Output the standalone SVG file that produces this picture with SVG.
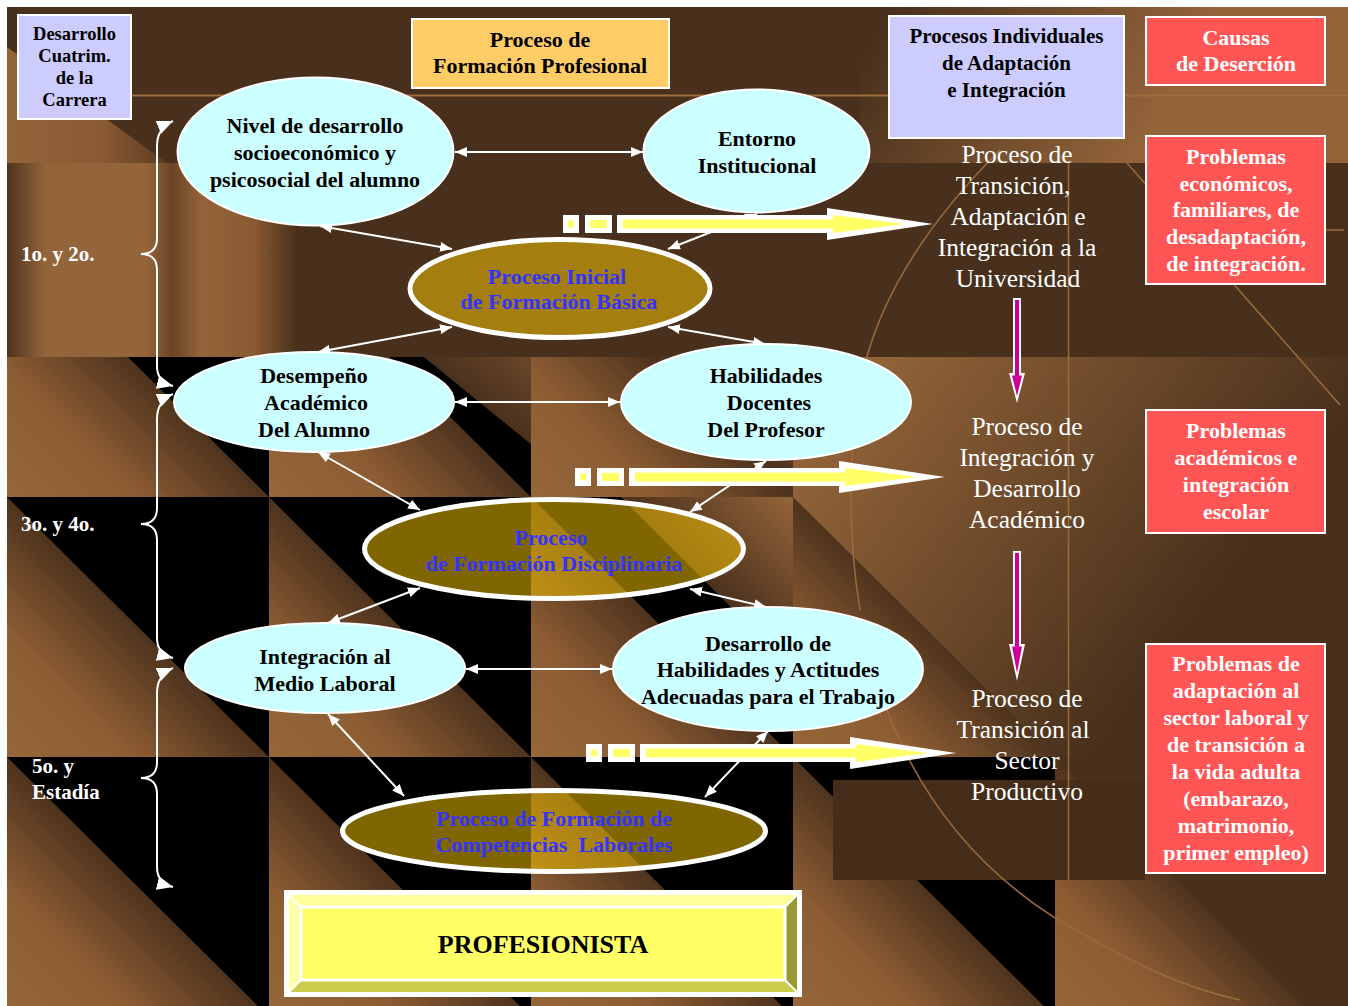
<svg xmlns="http://www.w3.org/2000/svg" width="1348" height="1006" viewBox="0 0 1348 1006">
<defs>
<style>
.f{font-family:"Liberation Serif","Times New Roman",serif;font-weight:bold;text-anchor:middle}
.k{fill:#000;font-size:22px}
.b{fill:#3333ff;font-size:22px}
.w{fill:#fff;font-size:22px}
.lab{font-family:"Liberation Serif","Times New Roman",serif;font-weight:bold;font-size:21px;fill:#fff}
.r{font-family:"Liberation Serif","Times New Roman",serif;font-size:25.5px;fill:#fff;text-anchor:middle}
.cy{fill:#ccffff;stroke:#fff;stroke-width:2}
.ol{fill:#ffcc00;fill-opacity:0.5;stroke:#fff;stroke-width:5}
.bx{stroke:#fff;stroke-width:2}
.cn{fill:none;stroke:#fff;stroke-width:2;marker-start:url(#ah);marker-end:url(#ah)}
.br{fill:none;stroke:#fff;stroke-width:2;marker-start:url(#bh);marker-end:url(#bh)}
.blk{fill:#000}
.ll{fill:url(#gLL)}
.ur{fill:url(#gUR)}
.dl{fill:none;stroke:#9c6b3c;stroke-width:1.5}
.wh{fill:#fff}
.yl{fill:#ffff66}
</style>
<marker id="ah" viewBox="0 0 12 10" refX="12" refY="5" markerWidth="12" markerHeight="10" markerUnits="userSpaceOnUse" orient="auto-start-reverse"><path d="M0,0 L12,5 L0,10 z" fill="#fff"/></marker>
<marker id="bh" viewBox="0 0 16 14" refX="16" refY="7" markerWidth="16" markerHeight="14" markerUnits="userSpaceOnUse" orient="auto-start-reverse"><path d="M0,0 L16,7 L0,14 z" fill="#fff"/></marker>
<linearGradient id="gLL" x1="0" y1="1" x2="0.5" y2="0.5">
<stop offset="0" stop-color="#97673b"/><stop offset="0.5" stop-color="#8c5c33"/><stop offset="1" stop-color="#4e331d"/>
</linearGradient>
<linearGradient id="gUR" x1="0.5" y1="0.5" x2="1" y2="0">
<stop offset="0" stop-color="#4b311d"/><stop offset="1" stop-color="#95653a"/>
</linearGradient>
<linearGradient id="gBig" gradientUnits="userSpaceOnUse" x1="830" y1="380" x2="1180" y2="640">
<stop offset="0" stop-color="#96663a"/><stop offset="1" stop-color="#48301c"/>
</linearGradient>
<linearGradient id="gTop" gradientUnits="userSpaceOnUse" x1="880" y1="20" x2="1130" y2="160">
<stop offset="0" stop-color="#48301c"/><stop offset="1" stop-color="#93633a"/>
</linearGradient>
<linearGradient id="gTL" gradientUnits="userSpaceOnUse" x1="7" y1="0" x2="167" y2="0">
<stop offset="0" stop-color="#93633a"/><stop offset="0.6" stop-color="#8a5b32"/><stop offset="1" stop-color="#5a3b20"/>
</linearGradient>
<linearGradient id="gBand" gradientUnits="userSpaceOnUse" x1="7" y1="0" x2="297" y2="0">
<stop offset="0" stop-color="#4f331e"/><stop offset="0.13" stop-color="#93633a"/><stop offset="0.48" stop-color="#95653a"/><stop offset="0.57" stop-color="#6a4526"/><stop offset="0.67" stop-color="#93633a"/><stop offset="0.85" stop-color="#8a5b32"/><stop offset="1" stop-color="#48301c"/>
</linearGradient>
<g id="ya">
<rect x="0" y="-9" width="16" height="18" class="wh"/>
<rect x="22" y="-9" width="27" height="18" class="wh"/>
<rect x="54" y="-9" width="216" height="18" class="wh"/>
<polygon points="264,-16 370,0 264,16" class="wh"/>
<rect x="5" y="-3.5" width="6" height="7" class="yl"/>
<rect x="27" y="-4" width="17" height="8" class="yl"/>
<rect x="60" y="-4.5" width="212" height="9" class="yl"/>
<polygon points="270,-9 342,0 270,9" class="yl"/>
</g>
</defs>

<g id="background">
<rect width="1348" height="1006" fill="#fff"/>
<rect x="7" y="7" width="1341" height="999" fill="#48301c"/>
<polygon class="ll" points="7,237 269,497 7,497"/>
<polygon class="blk" points="7,237 269,237 269,497"/>
<polygon class="ll" points="269,237 531,497 269,497"/>
<polygon class="blk" points="269,237 531,497 531,444 277,237"/>
<polygon class="ur" points="277,237 531,444 531,237"/>
<polygon class="ll" points="531,237 793,497 531,497"/>
<polygon class="ur" points="531,237 793,237 793,497"/>
<rect x="793" y="357" width="555" height="400" fill="url(#gBig)"/>
<polygon class="ll" points="7,497 269,757 7,757"/>
<polygon class="blk" points="7,497 269,497 269,757"/>
<polygon class="ll" points="269,497 531,757 269,757"/>
<polygon class="blk" points="269,497 531,497 531,757"/>
<polygon class="ll" points="531,497 793,757 531,757"/>
<polygon class="blk" points="531,497 793,757 793,669 621,497"/>
<polygon class="ur" points="621,497 793,669 793,497"/>
<polygon class="ll" points="793,497 1055,757 793,757"/>
<polygon class="ll" points="7,757 269,1017 7,1017"/>
<polygon class="blk" points="7,757 269,757 269,1017"/>
<polygon class="ll" points="269,757 531,1017 269,1017"/>
<polygon class="blk" points="269,757 531,757 531,1017"/>
<polygon class="ll" points="531,757 793,1017 531,1017"/>
<polygon class="blk" points="531,757 793,757 793,1017"/>
<polygon class="ll" points="793,757 1055,1017 793,1017"/>
<polygon class="blk" points="793,757 1055,757 1055,1017"/>
<polygon class="ll" points="1055,757 1317,1017 1055,1017"/>
<rect x="833" y="780" width="312" height="100" fill="#462d1a"/>
<rect x="7" y="163" width="1341" height="194" fill="#48301c"/>
<rect x="7" y="163" width="290" height="194" fill="url(#gBand)"/>
<rect x="7" y="7" width="1341" height="156" fill="#48301c"/>
<polygon points="7,47 167,163 7,163" fill="url(#gTL)"/>
<rect x="860" y="7" width="488" height="156" fill="url(#gTop)"/>
<line x1="131" y1="95.5" x2="1348" y2="95.5" stroke="#a06d3c" stroke-width="2"/>
<line x1="1068.5" y1="163" x2="1068.5" y2="880" class="dl"/>
<line x1="1127" y1="163" x2="1340" y2="405" class="dl"/>
<line x1="1325" y1="230" x2="1344" y2="230" class="dl"/>
<path class="dl" d="M 1000 150 C 930 220 885 290 866 360 C 850 420 845 520 860 610"/>
<path class="dl" d="M 885 705 C 920 800 980 870 1055 918 C 1110 950 1170 985 1240 1000"/>
</g>

<g id="connectors">
<line class="cn" x1="455" y1="152" x2="643" y2="152"/>
<line class="cn" x1="320" y1="226" x2="452" y2="249"/>
<line class="cn" x1="757" y1="214" x2="668" y2="249"/>
<line class="cn" x1="452" y1="327" x2="318" y2="352"/>
<line class="cn" x1="668" y1="327" x2="765" y2="344"/>
<line class="cn" x1="455" y1="402" x2="620" y2="402"/>
<line class="cn" x1="318" y1="452" x2="420" y2="510"/>
<line class="cn" x1="766" y1="461" x2="690" y2="512"/>
<line class="cn" x1="420" y1="588" x2="328" y2="623"/>
<line class="cn" x1="690" y1="589" x2="766" y2="607"/>
<line class="cn" x1="466" y1="669" x2="612" y2="669"/>
<line class="cn" x1="328" y1="714" x2="404" y2="796"/>
<line class="cn" x1="768" y1="731" x2="705" y2="797"/>
<path class="br" d="M 173 121 Q 157 128 157 146 L 157 238 Q 157 254 141 254 Q 157 254 157 270 L 157 366 Q 157 382 173 386"/>
<path class="br" d="M 173 394 Q 157 401 157 419 L 157 508 Q 157 524 141 524 Q 157 524 157 540 L 157 638 Q 157 654 173 658"/>
<path class="br" d="M 173 668 Q 157 675 157 693 L 157 762 Q 157 778 141 778 Q 157 778 157 794 L 157 867 Q 157 883 173 887"/>
<g id="flow-arrows">
<use href="#ya" transform="translate(563,224)"/>
<use href="#ya" transform="translate(575,477)"/>
<use href="#ya" transform="translate(586,753)"/>
</g>
<g id="down-arrows">
<rect x="1013" y="298" width="8" height="78" class="wh"/>
<polygon points="1009,373 1025,373 1017,403" class="wh"/>
<rect x="1015" y="300" width="4" height="76" fill="#cc0099"/>
<polygon points="1012,375.5 1022,375.5 1017,396" fill="#cc0099"/>
<rect x="1013" y="551" width="8" height="96" class="wh"/>
<polygon points="1009,644 1025,644 1017,681" class="wh"/>
<rect x="1015" y="553" width="4" height="94" fill="#cc0099"/>
<polygon points="1012,646.5 1022,646.5 1017,673" fill="#cc0099"/>
</g>
</g>

<g id="box-desarrollo">
<rect x="18" y="15" width="113" height="104" fill="#ccccff" class="bx"/>
<text class="f k" style="font-size:18.5px" x="74.5" y="40">Desarrollo</text>
<text class="f k" style="font-size:18.5px" x="74.5" y="62">Cuatrim.</text>
<text class="f k" style="font-size:18.5px" x="74.5" y="84">de la</text>
<text class="f k" style="font-size:18.5px" x="74.5" y="106">Carrera</text>
</g>
<g id="box-formacion">
<rect x="412" y="19" width="257" height="69" fill="#ffcc66" class="bx"/>
<text class="f k" x="540" y="47">Proceso de</text>
<text class="f k" x="540" y="73">Formación Profesional</text>
</g>
<g id="box-procesos">
<rect x="889" y="16" width="235" height="122" fill="#ccccff" class="bx"/>
<text class="f k" style="font-size:21px" x="1006.5" y="43">Procesos Individuales</text>
<text class="f k" style="font-size:21px" x="1006.5" y="70">de Adaptación</text>
<text class="f k" style="font-size:21px" x="1006.5" y="97">e Integración</text>
</g>
<g id="box-causas">
<rect x="1146" y="17" width="179" height="68" fill="#ff5555" class="bx"/>
<text class="f w" x="1236" y="45">Causas</text>
<text class="f w" x="1236" y="71">de Deserción</text>
</g>
<g id="box-problemas1">
<rect x="1146" y="136" width="179" height="148" fill="#ff5555" class="bx"/>
<text class="f w" x="1236" y="164">Problemas</text>
<text class="f w" x="1236" y="191">económicos,</text>
<text class="f w" x="1236" y="217">familiares, de</text>
<text class="f w" x="1236" y="244">desadaptación,</text>
<text class="f w" x="1236" y="271">de integración.</text>
</g>
<g id="box-problemas2">
<rect x="1146" y="410" width="179" height="123" fill="#ff5555" class="bx"/>
<text class="f w" x="1236" y="438">Problemas</text>
<text class="f w" x="1236" y="465">académicos e</text>
<text class="f w" x="1236" y="492">integración</text>
<text class="f w" x="1236" y="519">escolar</text>
</g>
<g id="box-problemas3">
<rect x="1146" y="644" width="179" height="229" fill="#ff5555" class="bx"/>
<text class="f w" x="1236" y="671">Problemas de</text>
<text class="f w" x="1236" y="698">adaptación al</text>
<text class="f w" x="1236" y="725">sector laboral y</text>
<text class="f w" x="1236" y="752">de transición a</text>
<text class="f w" x="1236" y="779">la vida adulta</text>
<text class="f w" x="1236" y="806">(embarazo,</text>
<text class="f w" x="1236" y="833">matrimonio,</text>
<text class="f w" x="1236" y="860">primer empleo)</text>
</g>

<g id="n-nivel">
<ellipse class="cy" cx="315.5" cy="151.5" rx="138" ry="74"/>
<text class="f k" x="315" y="133">Nivel de desarrollo</text>
<text class="f k" x="315" y="160">socioeconómico y</text>
<text class="f k" x="315" y="187">psicosocial del alumno</text>
</g>
<g id="n-entorno">
<ellipse class="cy" cx="756.5" cy="151" rx="113" ry="61.5"/>
<text class="f k" x="757" y="146">Entorno</text>
<text class="f k" x="757" y="173">Institucional</text>
</g>
<g id="n-inicial">
<ellipse class="ol" cx="560" cy="288.5" rx="150" ry="49"/>
<text class="f b" x="557" y="284">Proceso Inicial</text>
<text class="f b" x="559" y="309">de Formación Básica</text>
</g>
<g id="n-desempeno">
<ellipse class="cy" cx="314" cy="402" rx="140" ry="50"/>
<text class="f k" x="314" y="383">Desempeño</text>
<text class="f k" x="316" y="410">Académico</text>
<text class="f k" x="314" y="437">Del Alumno</text>
</g>
<g id="n-habilidades">
<ellipse class="cy" cx="766" cy="402" rx="145" ry="58"/>
<text class="f k" x="766" y="383">Habilidades</text>
<text class="f k" x="769" y="410">Docentes</text>
<text class="f k" x="766" y="437">Del Profesor</text>
</g>
<g id="n-disciplinaria">
<ellipse class="ol" cx="554" cy="549" rx="189.5" ry="49.5"/>
<text class="f b" x="551" y="545">Proceso</text>
<text class="f b" x="554" y="571">de Formación Disciplinaria</text>
</g>
<g id="n-integracion">
<ellipse class="cy" cx="325" cy="668" rx="140" ry="45"/>
<text class="f k" x="325" y="664">Integración al</text>
<text class="f k" x="325" y="691">Medio Laboral</text>
</g>
<g id="n-desarrollo">
<ellipse class="cy" cx="768" cy="669" rx="155" ry="62"/>
<text class="f k" x="768" y="651">Desarrollo de</text>
<text class="f k" x="768" y="677">Habilidades y Actitudes</text>
<text class="f k" x="768" y="704">Adecuadas para el Trabajo</text>
</g>
<g id="n-competencias">
<ellipse class="ol" cx="554" cy="831" rx="211.5" ry="40.5"/>
<text class="f b" x="554" y="826">Proceso de Formación de</text>
<text class="f b" x="554" y="852" xml:space="preserve">Competencias  Laborales</text>
</g>
<g id="profesionista">
<rect x="284" y="890" width="518" height="107" fill="#fff"/>
<polygon points="289,895 797,895 785,907 301,907" fill="#ffff99"/>
<polygon points="289,895 301,907 301,980 289,992" fill="#ffffaa"/>
<polygon points="797,895 797,992 785,980 785,907" fill="#999933"/>
<polygon points="289,992 797,992 785,980 301,980" fill="#cccc4d"/>
<rect x="301" y="907" width="484" height="73" fill="#ffff66" stroke="#fff" stroke-width="3"/>
<path d="M289,895 L301,907 M797,895 L785,907 M289,992 L301,980 M797,992 L785,980" stroke="#fff" stroke-width="2"/>
<text class="f k" style="font-size:26px" x="543" y="953">PROFESIONISTA</text>
</g>

<g id="stage-1">
<text class="r" x="1017" y="163">Proceso de</text>
<text class="r" x="1013" y="194">Transición,</text>
<text class="r" x="1018" y="225">Adaptación e</text>
<text class="r" x="1017" y="256">Integración a la</text>
<text class="r" x="1018" y="287">Universidad</text>
</g>
<g id="stage-2">
<text class="r" x="1027" y="435">Proceso de</text>
<text class="r" x="1027" y="466">Integración y</text>
<text class="r" x="1027" y="497">Desarrollo</text>
<text class="r" x="1027" y="528">Académico</text>
</g>
<g id="stage-3">
<text class="r" x="1027" y="707">Proceso de</text>
<text class="r" x="1023" y="738">Transición al</text>
<text class="r" x="1027" y="769">Sector</text>
<text class="r" x="1027" y="800">Productivo</text>
</g>
<g id="labels">
<text class="lab" x="21" y="261">1o. y 2o.</text>
<text class="lab" x="21" y="531">3o. y 4o.</text>
<text class="lab" x="32" y="773">5o. y</text>
<text class="lab" x="32" y="799">Estadía</text>
</g>
</svg>
